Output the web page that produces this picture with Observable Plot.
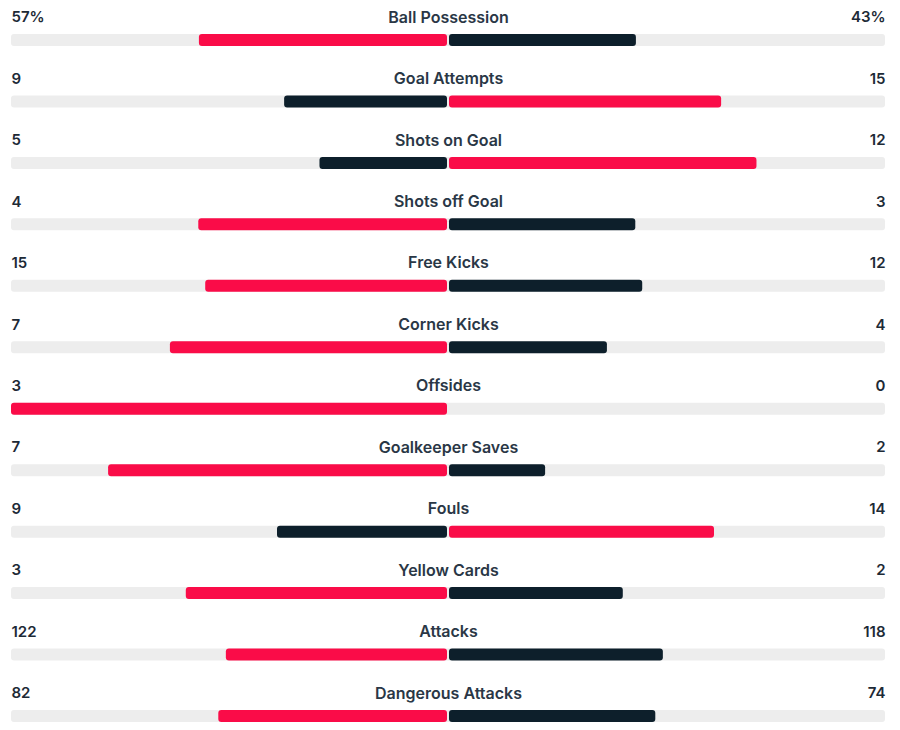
<!DOCTYPE html>
<html>
<head>
<meta charset="utf-8">
<script src="https://cdn.jsdelivr.net/npm/d3@7"></script>
<script src="https://cdn.jsdelivr.net/npm/@observablehq/plot@0.6"></script>
<style>
  html, body { margin: 0; padding: 0; background: #fff; }
  #chart svg { display: block; }
</style>
</head>
<body>
<div id="chart"></div>
<script>
const stats = ["Ball Possession","Goal Attempts","Shots on Goal","Shots off Goal","Free Kicks","Corner Kicks","Offsides","Goalkeeper Saves","Fouls","Yellow Cards","Attacks","Dangerous Attacks"];
const home = [57, 9, 5, 4, 15, 7, 3, 7, 9, 3, 122, 82];
const away = [43, 15, 12, 3, 12, 4, 0, 2, 14, 2, 118, 74];
const suffix = ["%", "", "", "", "", "", "", "", "", "", "", ""];

const RED = "#fa0c48";
const NAVY = "#0d1f2b";

const rows = stats.map((s, i) => {
  const tot = home[i] + away[i];
  return {
    stat: s,
    home: home[i], away: away[i],
    homeLabel: home[i] + suffix[i],
    awayLabel: away[i] + suffix[i],
    hf: tot ? home[i] / tot : 0,
    af: tot ? away[i] / tot : 0,
    homeColor: home[i] >= away[i] ? RED : NAVY,
    awayColor: away[i] > home[i] ? RED : NAVY
  };
});

const font = "Inter, 'Noto Sans', sans-serif";

const chart = Plot.plot({
  width: 900,
  height: 730,
  marginLeft: 11,
  marginRight: 15,
  marginTop: 34,
  marginBottom: 8,
  style: { fontFamily: font, background: "#fff" },
  x: { domain: [-1, 1], axis: null },
  y: { domain: stats, axis: null, paddingInner: 0.805, paddingOuter: 0, round: false },
  marks: [
    Plot.barX(rows, { y: "stat", x1: -1, x2: 1, fill: "#ededed", rx: 3 }),
    Plot.barX(rows.filter(d => d.hf > 0), { y: "stat", x1: d => -d.hf, x2: 0, fill: d => d.homeColor, insetRight: 1, rx: 3 }),
    Plot.barX(rows.filter(d => d.af > 0), { y: "stat", x1: 0, x2: d => d.af, fill: d => d.awayColor, insetLeft: 1, rx: 3 }),
    Plot.text(rows, { y: "stat", x: 0, text: "stat", dy: -23, fontSize: 16, fontWeight: 600, fill: "#2a3746", textAnchor: "middle" }),
    Plot.text(rows, { y: "stat", x: -1, text: "homeLabel", dy: -23, fontSize: 15, fontWeight: 600, fill: "#1d2a36", textAnchor: "start" }),
    Plot.text(rows, { y: "stat", x: 1, text: "awayLabel", dy: -23, fontSize: 15, fontWeight: 600, fill: "#1d2a36", textAnchor: "end" })
  ]
});
document.getElementById("chart").appendChild(chart);
</script>
</body>
</html>
